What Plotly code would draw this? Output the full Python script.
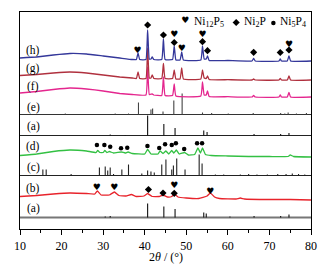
import plotly.graph_objects as go

# ---------------- data ----------------
# 2theta grid points and intensities (a.u., relative to each pattern's own baseline)
h_x = [10, 14, 18, 22, 26, 30, 34, 37, 38.0, 38.4, 38.8, 40.3, 40.7, 41.1, 41.5, 41.8, 42.2, 44.1, 44.5, 44.9,
       46.7, 47.1, 47.5, 48.5, 48.9, 49.3, 53.5, 53.9, 54.3, 54.8, 55.1, 55.5, 60, 65.8, 66.2, 66.6, 72.3, 72.6,
       72.9, 74.3, 74.7, 75.1, 80]
h_y = [3, 4, 6, 7.5, 7, 5, 3, 1.5, 1.5, 8, 1.5, 1.5, 31, 2, 2, 4, 1.5, 1.5, 22, 1.5,
       1.5, 15, 1, 1, 9, 1, 1, 15, 2, 2, 5, 0.5, 0.5, 0, 2.5, 0, 0, 2,
       0, 0, 5, 0, 0]

g_x = h_x
g_y = [4.5, 5.5, 7, 8, 7, 5, 3, 2, 1.5, 8, 1.5, 1.5, 32, 2, 2, 5, 1.5, 1.5, 16.5, 1.5,
       1.5, 10, 1, 1, 12, 1, 1, 10, 2, 1.5, 4, 0.5, 0.3, 0, 1, 0, 0, 1.5,
       0, 0, 4, 0, 0]

f_x = [10, 14, 18, 22, 26, 30, 34, 37, 40.3, 40.7, 41.1, 41.8, 42.2, 44.1, 44.5, 44.9, 46.7, 47.1, 47.5,
       53.5, 53.9, 54.3, 54.8, 55.1, 55.5, 60, 65.8, 66.2, 66.6, 72.3, 72.6, 72.9, 74.3, 74.7, 75.1, 80]
f_y = [4, 5.5, 7.5, 9, 8, 6, 3.5, 2.5, 2, 30, 2.5, 3, 2, 1.5, 20, 1.5, 1.5, 13, 1,
       1, 15, 2, 2, 6, 0.5, 0.3, 0, 1.5, 0, 0, 2, 0, 0, 4.5, 0, 0]

d_x = [10, 14, 18, 22, 26, 28.3, 28.7, 29.2, 30.0, 30.4, 30.9, 31.5, 32.5, 34.4, 35.3, 36.0, 37, 40, 40.7,
       41.5, 43.2, 43.7, 44.4, 45.1, 45.8, 46.5, 47.0, 47.6, 48.3, 49.6, 50.5, 52.0, 52.8, 53.4, 53.9, 54.6,
       56, 60, 65, 70, 74.5, 75, 75.8, 80]
d_y = [1.5, 3, 5.5, 7, 6, 4.5, 6.5, 4.5, 4.5, 6.5, 4.5, 5.5, 4, 5, 4, 5, 3.5, 3, 7.5,
       3, 3, 6, 3.5, 6, 3, 6.5, 4, 7, 3, 4.5, 2, 2.5, 9, 4, 9, 2.5,
       1.5, 1, 0.5, 0.5, 0.5, 2, 0.5, 0]

b_x = [10, 14, 18, 22, 26, 28.0, 28.6, 29.5, 31.5, 32.7, 33.8, 35.5, 36.8, 38, 39.8, 40.7, 41.8, 43.5, 44.4,
       45.5, 46.5, 47.1, 48.0, 50, 53, 55.0, 55.8, 56.8, 58, 62, 63, 64, 70, 75, 80]
b_y = [3.5, 4.5, 6, 7, 6.5, 6, 9, 5, 5, 8, 4.5, 4, 5.5, 3.5, 4, 6.5, 3.5, 3.5, 5,
       3, 3.5, 6, 3, 2, 1.5, 4, 7, 3, 1.5, 1, 2, 1, 0.5, 0.5, 0]

# reference stick patterns (position, relative height)
e_pos = [20.9, 32.9, 36.1, 38.5, 41.5, 41.9, 44.4, 47.0, 49.0, 53.9, 56.1, 60.1, 66.1, 72.7, 73.7, 74.5, 76.5, 78.9]
e_h = [1, 1, 1, 12, 5, 6, 3, 14, 21, 2, 1.5, 1, 1.5, 1.5, 1, 2, 1, 1.5]

a1_pos = [31.7, 35.3, 40.7, 44.6, 47.3, 54.2, 55.0, 66.3, 72.7, 74.7]
a1_h = [1, 0.5, 20, 11.5, 7.5, 5, 3.5, 1.5, 1.5, 2.5]

c_pos = [15.5, 16.3, 22.3, 29.1, 30.5, 31.1, 31.7, 32.5, 34.5, 36.1, 39.3, 40.7, 41.5, 42.3, 44.1, 45.1, 46.5,
         46.9, 47.7, 49.7, 53.1, 53.8, 57.0, 59.0, 63.0, 65.0, 67.0, 69.5, 72.0, 74.0, 75.5, 77.0, 78.5]
c_h = [6, 6, 1.5, 8, 9, 5, 8, 1.5, 6, 11, 2, 5, 4, 3, 11, 16, 6,
       10, 17, 6, 21, 12, 1, 1, 1, 1.5, 1, 1, 1.5, 1.5, 2, 1.5, 1]

a2_pos = [30.5, 31.7, 40.7, 44.6, 47.3, 54.2, 54.8, 60.5, 66.3, 72.7, 74.7]
a2_h = [1, 1.5, 14, 11, 8.5, 5, 4, 1, 1.5, 1.5, 3]

# phase markers
h_heart_x = [38.3, 47.1, 48.9, 53.9, 74.7]
h_heart_y = [178.3, 194.5, 180.5, 194.7, 184.5]
h_dia_x = [40.7, 44.5, 47.1, 53.9, 55.1, 66.2, 72.6, 74.7]
h_dia_y = [204, 194, 186.5, 187.3, 178.3, 176.7, 176.5, 179]
d_dot_x = [28.5, 30.3, 31.7, 34.3, 35.8, 40.65, 43.5, 44.9, 46.5, 47.5, 49.5, 52.6, 53.8]
d_dot_y = [84, 84, 82.3, 80.7, 81.3, 83, 81, 84.7, 84, 85.7, 80, 85.7, 85.7]
b_heart_x = [28.5, 32.7, 47.1, 55.8]
b_heart_y = [41, 41, 43.5, 37.3]
b_dia_x = [40.9, 44.4, 47.1]
b_dia_y = [39.5, 36, 35.7]

labels = ["(h)", "(g)", "(f)", "(e)", "(a)", "(d)", "(c)", "(b)", "(a)"]
label_y = [179, 161, 143, 122, 103, 82.5, 62, 41, 20.5]

# stacking offsets
h_off, g_off, f_off = 168, 149, 132
e_base, a1_base, d_off, c_base, b_off, a2_base = 114.5, 93.5, 72, 53.5, 29, 11.5

x_ticks = [10, 20, 30, 40, 50, 60, 70, 80]

SERIF = "Liberation Serif, Times New Roman, serif"
SYM = "DejaVu Sans"

fig = go.Figure()


def curve(xs, ys, off, color):
    fig.add_trace(go.Scatter(x=xs, y=[v + off for v in ys], mode="lines",
                             line=dict(color=color, width=1.3, shape="spline", smoothing=0.3),
                             hoverinfo="skip"))


def sticks(pos, hts, base, color, base_color, base_w):
    fig.add_trace(go.Scatter(x=[10, 80], y=[base, base], mode="lines",
                             line=dict(color=base_color, width=base_w), hoverinfo="skip"))
    xs, ys = [], []
    for p, hh in zip(pos, hts):
        xs += [p, p, None]
        ys += [base, base + hh, None]
    fig.add_trace(go.Scatter(x=xs, y=ys, mode="lines", line=dict(color=color, width=1.1),
                             hoverinfo="skip"))


def hearts(xs, ys):
    fig.add_trace(go.Scatter(x=xs, y=ys, mode="text", text=["♥"] * len(xs),
                             textfont=dict(family=SYM, size=9, color="black"), hoverinfo="skip"))


def diamonds(xs, ys):
    fig.add_trace(go.Scatter(x=xs, y=ys, mode="markers",
                             marker=dict(symbol="diamond", size=5.5, color="black"), hoverinfo="skip"))


def dots(xs, ys):
    fig.add_trace(go.Scatter(x=xs, y=ys, mode="markers",
                             marker=dict(symbol="circle", size=4.5, color="black"), hoverinfo="skip"))


sticks(a2_pos, a2_h, a2_base, "#111111", "#777777", 2.2)
curve(b_x, b_y, b_off, "#e8232b")
sticks(c_pos, c_h, c_base, "#222222", "#222222", 1.1)
curve(d_x, d_y, d_off, "#33c043")
sticks(a1_pos, a1_h, a1_base, "#111111", "#222222", 1.1)
sticks(e_pos, e_h, e_base, "#444444", "#333333", 1.1)
curve(f_x, f_y, f_off, "#e4268e")
curve(g_x, g_y, g_off, "#b0303e")
curve(h_x, h_y, h_off, "#34379a")

hearts(h_heart_x, h_heart_y)
diamonds(h_dia_x, h_dia_y)
dots(d_dot_x, d_dot_y)
hearts(b_heart_x, b_heart_y)
diamonds(b_dia_x, b_dia_y)

# legend
hearts([49.75], [207.8])
diamonds([62.0], [206.5])
dots([70.95], [206.0])
for tx, xx in [("Ni<sub>12</sub>P<sub>5</sub>", 51.3), ("Ni<sub>2</sub>P", 63.3), ("Ni<sub>5</sub>P<sub>4</sub>", 72.0)]:
    fig.add_annotation(x=xx, y=207, xref="x", yref="y", text=tx, showarrow=False, xanchor="left",
                       yanchor="middle", font=dict(family=SERIF, size=11.5, color="black"))

for lab, ly in zip(labels, label_y):
    fig.add_annotation(x=13.2, y=ly, xref="x", yref="y", text=lab, showarrow=False,
                       font=dict(family=SERIF, size=11.5, color="black"))

fig.add_annotation(x=0.5, y=-0.129, xref="paper", yref="paper", text="2<i>θ</i> / (°)", showarrow=False,
                   yanchor="middle", font=dict(family=SERIF, size=12, color="black"))

fig.update_layout(
    width=329, height=266,
    margin=dict(l=19.5, r=18, t=12, b=37),
    paper_bgcolor="white", plot_bgcolor="white",
    showlegend=False,
    xaxis=dict(range=[10, 80], tickvals=x_ticks, ticktext=[str(t) for t in x_ticks],
               ticks="outside", ticklen=5, tickwidth=1, tickcolor="black",
               minor=dict(dtick=5, ticks="outside", ticklen=3, tickcolor="black"),
               showline=True, linecolor="black", linewidth=1.2, mirror=True,
               showgrid=False, zeroline=False,
               tickfont=dict(family=SERIF, size=12, color="black")),
    yaxis=dict(range=[0, 217], showticklabels=False, ticks="", showline=True, linecolor="black",
               linewidth=1.2, mirror=True, showgrid=False, zeroline=False),
)

fig.write_html("out.html", config={"displayModeBar": False, "staticPlot": True},
               post_script="document.body.style.margin='0';document.body.style.overflow='hidden';")
